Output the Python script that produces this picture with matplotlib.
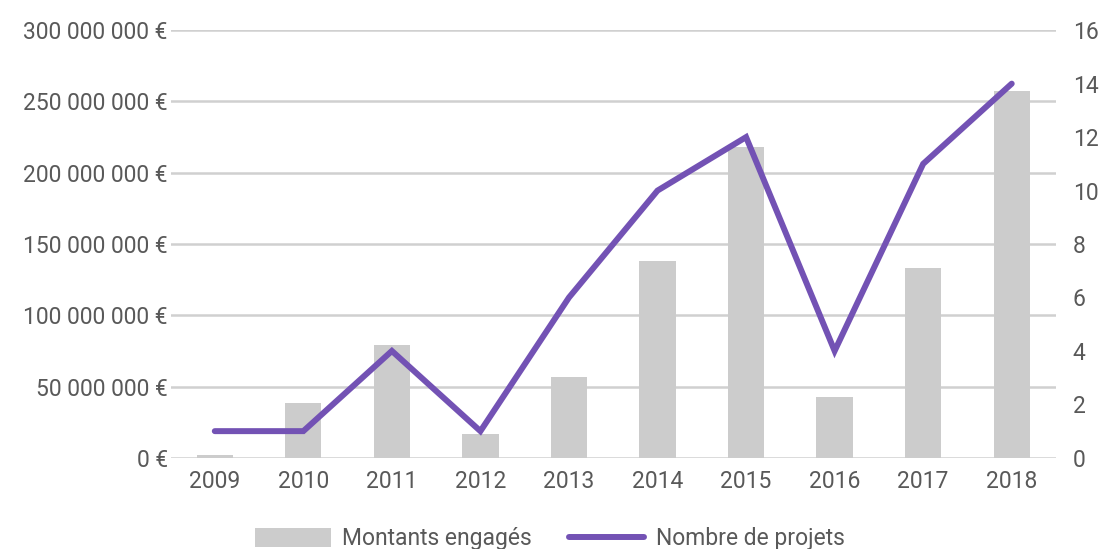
import matplotlib
matplotlib.use("Agg")
import matplotlib.pyplot as plt
from matplotlib.lines import Line2D
from matplotlib.patches import Patch

years = ["2009", "2010", "2011", "2012", "2013", "2014", "2015", "2016", "2017", "2018"]
montants = [2e6, 38.5e6, 79e6, 17e6, 57e6, 138e6, 218e6, 43e6, 133e6, 257e6]
projets = [1, 1, 4, 1, 6, 10, 12, 4, 11, 14]
left_ticks = [0, 50e6, 100e6, 150e6, 200e6, 250e6, 300e6]
right_ticks = [0, 2, 4, 6, 8, 10, 12, 14, 16]

plt.rcParams['font.family'] = ['Roboto', 'DejaVu Sans']
txt = "#595959"
grid = "#d0d0d0"
bar_c = "#cccccc"
line_c = "#7352b4"
fs = 16.5

fig = plt.figure(figsize=(11, 5.49), dpi=100)
ax = fig.add_axes([0.155, 0.166, 0.805, 0.779])
x = list(range(len(years)))
ax.bar(x, montants, width=0.41, color=bar_c, zorder=2)
ax.set_ylim(0, 300e6)
ax.set_xlim(-0.5, len(years) - 0.5)
ax.set_yticks(left_ticks)
def fmt(v):
    if v == 0:
        return "0 €"
    s = f"{int(v):,}".replace(",", " ")
    return s + " €"
ax.set_yticklabels([fmt(v) for v in left_ticks])
ax.set_xticks(x)
ax.set_xticklabels(years)
for v in left_ticks:
    ax.axhline(v, color=grid, lw=1.8, zorder=1)
for s in ax.spines.values():
    s.set_visible(False)
ax.tick_params(axis='both', length=0, labelsize=fs, colors=txt)
ax.tick_params(axis='x', pad=9)
ax.tick_params(axis='y', pad=2)

ax2 = ax.twinx()
ax2.plot(x, projets, color=line_c, lw=4.3, solid_capstyle='round', solid_joinstyle='miter', zorder=3)
ax2.set_ylim(0, 16)
ax2.set_yticks(right_ticks)
for s in ax2.spines.values():
    s.set_visible(False)
ax2.tick_params(axis='y', length=0, labelsize=fs, colors=txt, pad=12)

handles = [Patch(facecolor=bar_c, edgecolor='none'),
           Line2D([0], [0], color=line_c, lw=4.3, solid_capstyle='round')]
fig.legend(handles, ["Montants engagés", "Nombre de projets"], loc='lower center',
           bbox_to_anchor=(0.5, -0.04), ncol=2, frameon=False, fontsize=fs,
           labelcolor=txt, handlelength=3.3, handleheight=0.9, columnspacing=1.6,
           handletextpad=0.5)

fig.savefig("out.png", dpi=100)
